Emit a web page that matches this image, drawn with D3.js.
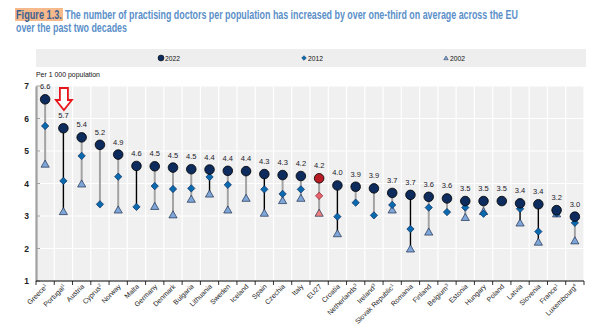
<!DOCTYPE html>
<html><head><meta charset="utf-8">
<script src="https://cdn.jsdelivr.net/npm/d3@7"></script>
<style>
body{margin:0;background:#fff;}
svg{display:block;font-family:"Liberation Sans",Arial,sans-serif;}
</style></head>
<body><svg id="c" width="596" height="325"></svg>
<script>
const categories = ["Greece","Portugal","Austria","Cyprus","Norway","Malta","Germany","Denmark","Bulgaria","Lithuania","Sweden","Iceland","Spain","Czechia","Italy","EU27","Croatia","Netherlands","Ireland","Slovak Republic","Romania","Finland","Belgium","Estonia","Hungary","Poland","Latvia","Slovenia","France","Luxembourg"];
const notes = ["1","1","","2","","","","","","","","","","","","","","3","3","1","","","3","","","","","","1","4"];
const v2022 = [6.59,5.70,5.42,5.19,4.89,4.54,4.53,4.49,4.44,4.43,4.39,4.38,4.29,4.26,4.23,4.16,3.94,3.90,3.85,3.71,3.65,3.59,3.54,3.46,3.46,3.46,3.39,3.36,3.18,2.98];
const labels2022 = ["6.6","5.7","5.4","5.2","4.9","4.6","4.5","4.5","4.5","4.4","4.4","4.4","4.3","4.3","4.2","4.2","4.0","3.9","3.9","3.7","3.7","3.6","3.6","3.5","3.5","3.5","3.4","3.4","3.2","3.0"];
const v2012 = [5.77,4.08,4.85,3.36,4.21,3.28,3.92,3.83,3.85,4.20,3.96,null,3.82,3.68,3.82,3.62,2.98,3.41,3.02,3.34,2.60,3.26,3.12,3.26,3.07,null,3.22,2.52,3.08,2.79];
const v2002 = [4.59,3.13,3.98,null,3.18,null,3.29,3.03,3.51,3.67,3.18,3.54,3.08,3.47,3.54,3.08,2.45,null,null,3.18,1.98,2.50,null,2.95,3.13,null,2.78,2.19,3.06,2.23];
const yTicks = [1,2,3,4,5,6,7];
const seriesNames = ["2022","2012","2002"];
const darkLineCountries = ["Portugal","Malta","Lithuania","Spain","Croatia","Romania","Latvia","Slovenia"];
const titleLabel = "Figure 1.3.";
const titleLine1 = "The number of practising doctors per population has increased by over one-third on average across the EU";
const titleLine2 = "over the past two decades";

const svg = d3.select("#c");
const x = d3.scaleBand().domain(categories).range([36, 584]).padding(0);
const y = d3.scaleLinear().domain([1, 7]).range([281, 86]);

function fitText(parent, str, x0, yb, width, attrs){
  const g = parent.append("g");
  const t = g.append("text").attr("x",0).attr("y",0).text(str);
  Object.entries(attrs).forEach(([k,v])=>t.attr(k,v));
  const w = t.node().getComputedTextLength();
  g.attr("transform",`translate(${x0},${yb}) scale(${width/w},1)`);
  return t;
}

// Title
const title = svg.append("g").attr("font-weight","bold");
title.append("rect").attr("x",15).attr("y",8).attr("width",48).attr("height",13).attr("fill","#f6b98c");
fitText(title, titleLabel, 16, 18.5, 46, {"font-size":12,"fill":"#3d5f8f"});
fitText(title, titleLine1, 65, 18.5, 453, {"font-size":12,"fill":"#5b8fc9"});
fitText(title, titleLine2, 16, 31.5, 111, {"font-size":12,"fill":"#5b8fc9"});

// Legend band
svg.append("rect").attr("x",36).attr("y",49).attr("width",550).attr("height",18).attr("fill","#eeeeee");
const lg = svg.append("g");
const legX = [161, 304, 446];
lg.append("circle").attr("cx",legX[0]).attr("cy",58).attr("r",3).attr("fill","#0d2b5c").attr("stroke","#000").attr("stroke-width",0.5);
lg.append("path").attr("d",d3.symbol(d3.symbolDiamond2,14)()).attr("transform",`translate(${legX[1]},58)`).attr("fill","#0a6ab0").attr("stroke","#0b2a5b").attr("stroke-width",0.5);
lg.append("path").attr("d",d3.symbol(d3.symbolTriangle2,14)()).attr("transform",`translate(${legX[2]},58.5)`).attr("fill","#7ea6d8").attr("stroke","#1f3050").attr("stroke-width",0.5);
seriesNames.forEach((s,i)=>fitText(lg, s, legX[i]+4, 60.8, 15, {"font-size":7.5,"fill":"#111"}));

fitText(svg, "Per 1 000 population", 36, 77, 64, {"font-size":7.5,"fill":"#111"});

// Plot background + grid
svg.append("rect").attr("x",36).attr("y",y(7)).attr("width",548).attr("height",y(1)-y(7)).attr("fill","#f0f0f0");
const grid = svg.append("g").attr("stroke","#ffffff").attr("stroke-width",1.2);
yTicks.forEach(t=>grid.append("line").attr("x1",36).attr("x2",584).attr("y1",y(t)).attr("y2",y(t)));
categories.forEach((c,i)=>{ if(i>0){ grid.append("line").attr("x1",x(c)).attr("x2",x(c)).attr("y1",y(7)).attr("y2",y(1)); }});
grid.append("line").attr("x1",584).attr("x2",584).attr("y1",y(7)).attr("y2",y(1));

// Y axis
const yAxis = d3.axisLeft(y).tickValues(yTicks).tickFormat(d3.format("d")).tickSize(0).tickPadding(7);
const ya = svg.append("g").attr("transform","translate(36,0)").call(yAxis);
ya.select(".domain").attr("stroke","#a0a0a0").attr("stroke-width",2.2);
ya.selectAll("text").attr("font-size",8.5).attr("font-weight","bold").attr("fill","#222").attr("font-family","Liberation Sans, Arial, sans-serif");
yTicks.forEach(t=>svg.append("line").attr("x1",36).attr("x2",40).attr("y1",y(t)).attr("y2",y(t)).attr("stroke","#a0a0a0").attr("stroke-width",1));

// X axis
const xa = svg.append("g").attr("transform",`translate(0,${y(1)})`);
xa.append("line").attr("x1",36).attr("x2",584).attr("stroke","#000").attr("stroke-width",1);
categories.forEach((c)=>{ xa.append("line").attr("x1",x(c)+x.bandwidth()).attr("x2",x(c)+x.bandwidth()).attr("y1",0).attr("y2",4).attr("stroke","#000").attr("stroke-width",0.8);});
xa.append("line").attr("x1",36).attr("x2",36).attr("y1",0).attr("y2",4).attr("stroke","#000").attr("stroke-width",0.8);
categories.forEach((c,i)=>{
  const cx = x(c)+x.bandwidth()/2 + 3;
  const g = xa.append("g").attr("transform",`translate(${cx},6) rotate(-45)`);
  const tx = g.append("text").attr("text-anchor","end").attr("font-size",7).attr("fill","#222");
  tx.append("tspan").text(c);
  if(notes[i]) tx.append("tspan").attr("font-size",4.5).attr("dy",-2.5).text(notes[i]);
});

// Lines
const marks = svg.append("g");
categories.forEach((c,i)=>{
  const vals = [v2022[i],v2012[i],v2002[i]].filter(v=>v!=null);
  if(vals.length<2) return;
  const cx = x(c)+x.bandwidth()/2;
  const dark = darkLineCountries.includes(c);
  marks.append("line").attr("x1",cx).attr("x2",cx).attr("y1",y(d3.max(vals))).attr("y2",y(d3.min(vals)))
    .attr("stroke",dark?"#000":"#a3a3a3").attr("stroke-width",dark?1.4:2);
});

// Markers
categories.forEach((c,i)=>{
  const cx = x(c)+x.bandwidth()/2;
  const eu = c==="EU27";
  if(v2002[i]!=null) marks.append("path").attr("d",d3.symbol(d3.symbolTriangle2,48)())
    .attr("transform",`translate(${cx},${y(v2002[i])+0.5})`).attr("fill",eu?"#f08080":"#7ea6d8").attr("stroke","#1f3050").attr("stroke-width",0.7);
  if(v2012[i]!=null) marks.append("path").attr("d",d3.symbol(d3.symbolDiamond2,34)())
    .attr("transform",`translate(${cx},${y(v2012[i])})`).attr("fill",eu?"#e9636c":"#0a6ab0").attr("stroke",eu?"#7a1f25":"#0b2a5b").attr("stroke-width",0.7);
  marks.append("circle").attr("cx",cx).attr("cy",y(v2022[i])).attr("r",4.8)
    .attr("fill",eu?"#b81c24":"#0d2b5c").attr("stroke","#000").attr("stroke-width",0.8);
  marks.append("text").attr("x",cx).attr("y",y(v2022[i])-10).attr("text-anchor","middle")
    .attr("font-size",7.5).attr("fill","#1a1a2a").text(labels2022[i]);
});

// Red arrow annotation over Portugal
const ax = x("Portugal")+x.bandwidth()/2+0.5;
const arrow = d3.path();
arrow.moveTo(ax-4,88); arrow.lineTo(ax+4,88); arrow.lineTo(ax+4,100); arrow.lineTo(ax+8,100);
arrow.lineTo(ax,110); arrow.lineTo(ax-8,100); arrow.lineTo(ax-4,100); arrow.closePath();
svg.append("path").attr("d",arrow.toString()).attr("fill","#fff").attr("stroke","#e8141b").attr("stroke-width",1.8).attr("stroke-linejoin","miter");
</script></body></html>
